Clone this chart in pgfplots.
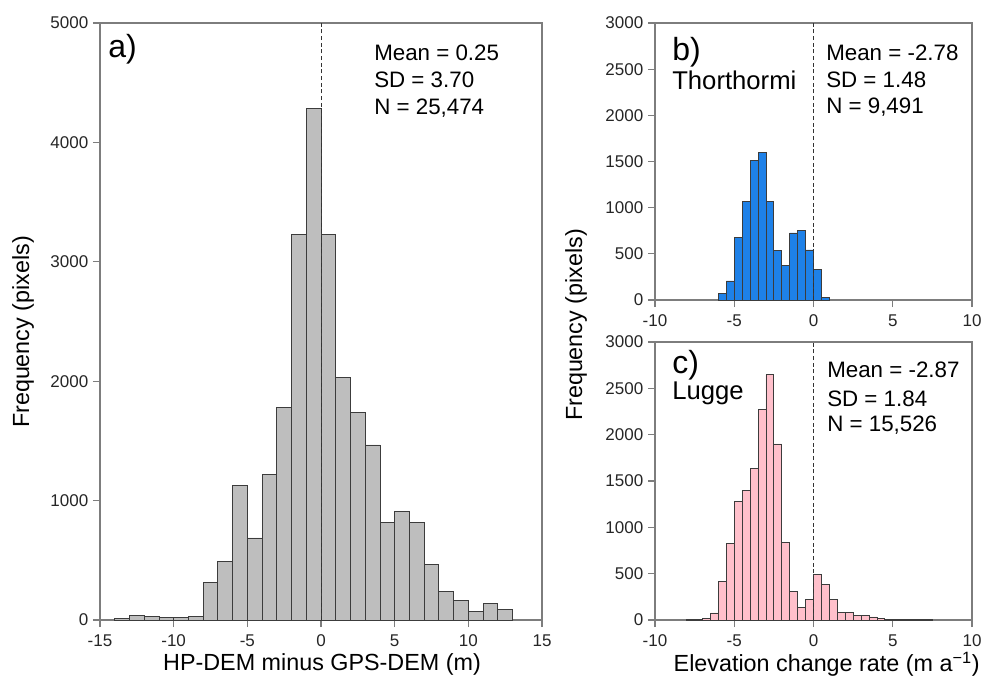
\documentclass[border=0pt]{standalone}
\usepackage{fontspec}
\setmainfont{Liberation Sans}
\usepackage{pgfplots}
\pgfplotsset{compat=1.18}

\definecolor{framegray}{RGB}{125,125,125}
\definecolor{bargray}{RGB}{190,190,190}
\definecolor{edgegray}{RGB}{60,60,60}
\definecolor{thblue}{RGB}{30,129,232}
\definecolor{lgpink}{RGB}{255,192,203}

\pgfplotsset{
  panel/.style={
    scale only axis,
    anchor=south west,
    axis line style={framegray, line width=0.8pt},
    tick style={framegray, line width=0.8pt},
    tick align=outside,
    major tick length=5.25pt,
    xtick pos=bottom, ytick pos=left,
    ticklabel style={font=\fontsize{12.75}{15}\selectfont, text=black!85},
    xticklabel style={yshift=-2.5pt},
    /pgf/number format/assume math mode=true,
    /pgf/number format/1000 sep={},
    scaled y ticks=false,
  },
  bars/.style={ybar interval, draw=edgegray, line width=0.6pt},
  zero/.style={black!80, line width=0.6pt, dash pattern=on 3pt off 2pt},
}
\newcommand{\lab}{\fontsize{17.5}{20}\selectfont}
\newcommand{\stat}{\fontsize{16.75}{19}\selectfont}
\newcommand{\site}{\fontsize{19.25}{22}\selectfont}
\newcommand{\panelfont}{\fontsize{24}{26}\selectfont}

\begin{document}
\begin{tikzpicture}
\path[use as bounding box] (0,0) rectangle (738pt,515.25pt);

% a) HP-DEM minus GPS-DEM
\begin{axis}[panel, at={(75pt,50.25pt)}, width=331.5pt, height=447.75pt,
  xmin=-15, xmax=15, ymin=0, ymax=5000,
  xtick={-15,-10,...,15}, ytick={0,1000,...,5000}]
\addplot[bars, fill=bargray] coordinates {
 (-14,15) (-13,40) (-12,28) (-11,22) (-10,25) (-9,33)
 (-8,312) (-7,494) (-6,1130) (-5,687) (-4,1220) (-3,1781)
 (-2,3230) (-1,4282) (0,3230) (1,2033) (2,1740) (3,1466)
 (4,818) (5,907) (6,818) (7,469) (8,240) (9,167)
 (10,75) (11,137) (12,92) (13,92)};
\addplot[zero] coordinates {(0,0) (0,5000)};
\end{axis}

% b) Thorthormi
\begin{axis}[panel, at={(491.25pt,290.25pt)}, width=237.75pt, height=207.75pt,
  xmin=-10, xmax=10, ymin=0, ymax=3000,
  xtick={-10,-5,...,10}, ytick={0,500,...,3000}]
\addplot[bars, fill=thblue] coordinates {
 (-6,72) (-5.5,206) (-5,675) (-4.5,1065) (-4,1510) (-3.5,1596)
 (-3,1065) (-2.5,534) (-2,379) (-1.5,726) (-1,751) (-0.5,542)
 (0,332) (0.5,25) (1,25)};
\addplot[zero] coordinates {(0,0) (0,3000)};
\end{axis}

% c) Lugge
\begin{axis}[panel, at={(491.25pt,50.25pt)}, width=237.75pt, height=208.5pt,
  xmin=-10, xmax=10, ymin=0, ymax=3000,
  xtick={-10,-5,...,10}, ytick={0,500,...,3000}]
\addplot[bars, fill=lgpink] coordinates {
 (-8,7) (-7.5,5) (-7,15) (-6.5,76) (-6,416) (-5.5,829)
 (-5,1281) (-4.5,1401) (-4,1636) (-3.5,2273) (-3,2646) (-2.5,1900)
 (-2,833) (-1.5,308) (-1,138) (-0.5,221) (0,489) (0.5,387)
 (1,221) (1.5,80) (2,80) (2.5,51) (3,54) (3.5,33)
 (4,18) (4.5,7) (5,4) (5.5,7) (6,7) (6.5,7) (7,4) (7.5,4)};
\addplot[zero] coordinates {(0,0) (0,3000)};
\end{axis}

% panel text
\node[anchor=west, inner sep=0] at (81pt,478pt) {\panelfont a)};
\node[anchor=west, inner sep=0] at (280.5pt,475.5pt) {\stat Mean = 0.25};
\node[anchor=west, inner sep=0] at (280.5pt,455.25pt) {\stat SD = 3.70};
\node[anchor=west, inner sep=0] at (280.5pt,434.25pt) {\stat N = 25,474};

\node[anchor=west, inner sep=0] at (504pt,476pt) {\panelfont b)};
\node[anchor=west, inner sep=0] at (504pt,455.25pt) {\site Thorthormi};
\node[anchor=west, inner sep=0] at (619.5pt,475.5pt) {\stat Mean = -2.78};
\node[anchor=west, inner sep=0] at (619.5pt,455.25pt) {\stat SD = 1.48};
\node[anchor=west, inner sep=0] at (619.5pt,435pt) {\stat N = 9,491};

\node[anchor=west, inner sep=0] at (504pt,241.5pt) {\panelfont c)};
\node[anchor=west, inner sep=0] at (504pt,220.5pt) {\site Lugge};
\node[anchor=west, inner sep=0] at (620.25pt,237.75pt) {\stat Mean = -2.87};
\node[anchor=west, inner sep=0] at (620.25pt,216pt) {\stat SD = 1.84};
\node[anchor=west, inner sep=0] at (620.25pt,196.5pt) {\stat N = 15,526};

% axis titles
\node[rotate=90, inner sep=0] at (17.25pt,266.25pt) {\lab Frequency (pixels)};
\node[rotate=90, inner sep=0] at (432pt,271.5pt) {\lab Frequency (pixels)};
\node[inner sep=0] at (241.5pt,17.25pt) {\lab HP-DEM minus GPS-DEM (m)};
\node[inner sep=0] at (620pt,17.25pt) {\lab Elevation change rate (m a\textsuperscript{\char"2212 1})};
\end{tikzpicture}
\end{document}
